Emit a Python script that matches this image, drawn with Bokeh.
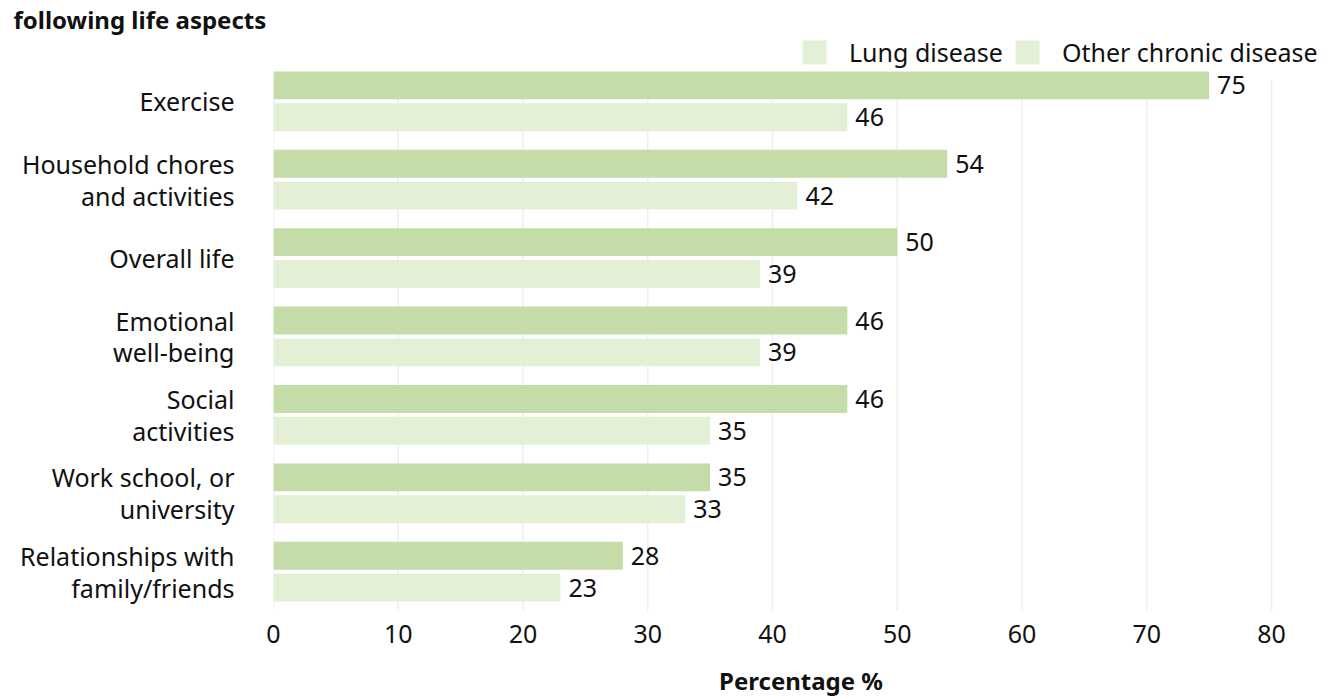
from bokeh.plotting import figure
from bokeh.models import Range1d, FixedTicker, ColumnDataSource, LabelSet, Legend, LegendItem
from bokeh.core.properties import value
from bokeh.embed import file_html
from bokeh.resources import INLINE

categories = ["Exercise", "Household chores\nand activities", "Overall life",
              "Emotional\nwell-being", "Social\nactivities",
              "Work school, or\nuniversity", "Relationships with\nfamily/friends"]
lung = [75, 54, 50, 46, 46, 35, 28]
other = [46, 42, 39, 39, 35, 33, 23]
x_ticks = [0, 10, 20, 30, 40, 50, 60, 70, 80]
series_names = ["Lung disease", "Other chronic disease"]
title_text = "following life aspects"
x_title = "Percentage %"

FONT = "Noto Sans"
DARK = "#C4DDA8"
LIGHT = "#E3F0D6"
TXT = "#111111"
OFF = 0.203
BH = 0.356
Y_BOTTOM, Y_TOP = 6.495, -0.839
GRID_TOP = -0.27

pos = list(range(len(categories)))
src_l = ColumnDataSource(dict(y=[i - OFF for i in pos], v=lung, t=[str(v) for v in lung]))
src_o = ColumnDataSource(dict(y=[i + OFF for i in pos], v=other, t=[str(v) for v in other]))

p = figure(width=1344, height=699, x_range=Range1d(0, 84.57), y_range=Range1d(Y_BOTTOM, Y_TOP),
           output_backend="svg", toolbar_location=None,
           min_border_left=273, min_border_right=16, min_border_top=35, min_border_bottom=87)
p.outline_line_color = None

p.title.text = title_text
p.title.align = "left"
p.title.offset = -260
p.title.standoff = 0
p.title.text_font = FONT
p.title.text_font_size = "24px"
p.title.text_font_style = "bold"
p.title.text_color = TXT

# vertical grid lines at the x ticks
p.segment(x0=x_ticks, x1=x_ticks, y0=GRID_TOP, y1=Y_BOTTOM, line_color="#EEEEEE", line_width=1.5)

p.hbar(y="y", right="v", left=0, height=BH, source=src_l, fill_color=DARK, line_color=None)
p.hbar(y="y", right="v", left=0, height=BH, source=src_o, fill_color=LIGHT, line_color=None)

for src in (src_l, src_o):
    p.add_layout(LabelSet(x="v", y="y", text="t", source=src, x_offset=8,
                          text_baseline="middle", text_font_size=value("25px"),
                          text_font=value(FONT), text_color=TXT))

# legend swatches (both drawn light as in the reference); NaN rows draw nothing in the plot
nan = float("nan")
r1 = p.hbar(y=[nan], right=[nan], left=0, height=BH, fill_color=LIGHT, line_color=None)
r2 = p.hbar(y=[nan], right=[nan], left=0, height=BH, fill_color=LIGHT, line_color=None)
legend = Legend(items=[LegendItem(label=series_names[0], renderers=[r1]),
                       LegendItem(label=series_names[1], renderers=[r2])],
                orientation="horizontal", location=(526, 541),
                glyph_width=30, glyph_height=30, label_height=30,
                label_standoff=20, spacing=9, padding=0, margin=0,
                border_line_color=None, background_fill_alpha=0,
                label_text_font_size="25px", label_text_font=FONT,
                label_text_color=TXT, label_text_baseline="middle")
p.add_layout(legend)

# x axis
p.xaxis.ticker = FixedTicker(ticks=x_ticks)
p.xaxis.axis_line_color = None
p.xaxis.major_tick_line_color = None
p.xaxis.minor_tick_line_color = None
p.xaxis.major_label_standoff = 8
p.xaxis.major_label_text_font_size = "25px"
p.xaxis.major_label_text_font = FONT
p.xaxis.major_label_text_color = TXT
p.xaxis.axis_label = x_title
p.xaxis.axis_label_standoff = 18
p.xaxis.axis_label_text_font = FONT
p.xaxis.axis_label_text_font_size = "24px"
p.xaxis.axis_label_text_font_style = "bold"
p.xaxis.axis_label_text_color = TXT

# y axis
p.yaxis.ticker = FixedTicker(ticks=pos)
p.yaxis.major_label_overrides = {i: c for i, c in zip(pos, categories)}
p.yaxis.axis_line_color = None
p.yaxis.major_tick_line_color = None
p.yaxis.minor_tick_line_color = None
p.yaxis.major_label_standoff = 33
p.yaxis.major_label_text_font_size = "25px"
p.yaxis.major_label_text_font = FONT
p.yaxis.major_label_text_color = TXT
p.yaxis.major_label_text_line_height = 0.94

p.xgrid.grid_line_color = None
p.ygrid.grid_line_color = None

open("out.html", "w").write(file_html(p, INLINE))
